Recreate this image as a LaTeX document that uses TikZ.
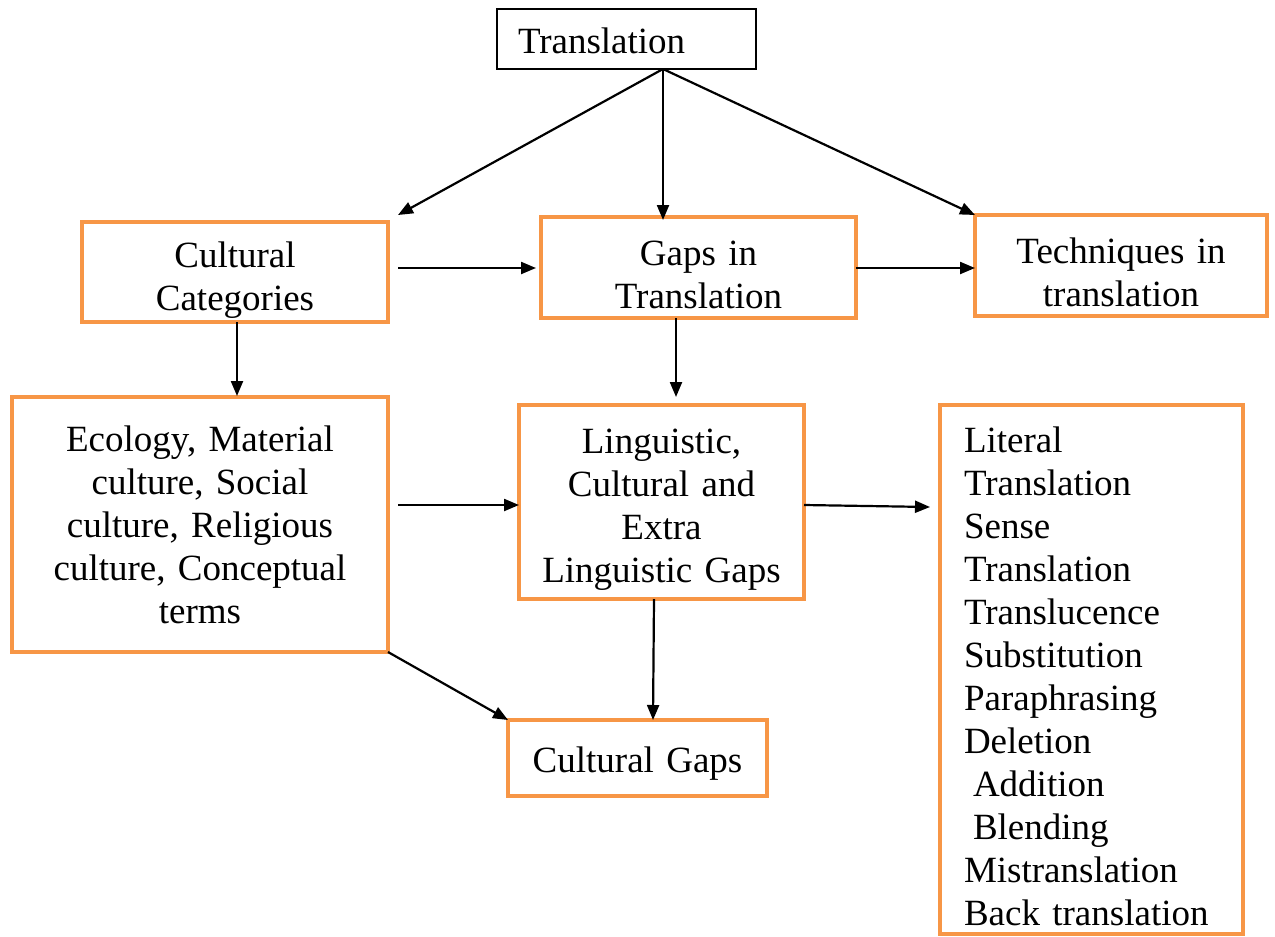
\documentclass[tikz,border=0pt]{standalone}
\usepackage{fontspec}
\setmainfont{Liberation Serif}
\usetikzlibrary{arrows.meta,calc}
\definecolor{boxorange}{HTML}{F79646}
\newcommand{\topstrut}[1]{\rule{0pt}{#1pt}}
\begin{document}
\begin{tikzpicture}[x=1pt,y=-1pt,
  every node/.style={font=\fontsize{37}{43}\selectfont, outer sep=0pt},
  obox/.style={draw=boxorange, line width=4pt, fill=white, inner sep=0pt, align=center},
  bbox/.style={draw=black, line width=1.5pt, fill=white, inner sep=0pt},
  arr/.style={line width=2.2pt, -{Triangle[length=15pt,width=12pt]}}]
\useasboundingbox (0,0) rectangle (1275,937);
\node[bbox, minimum width=259, minimum height=60, text width=217, inner xsep=21, align=left] (tr) at (626.5,39) {\topstrut{30}Translation};
\node[obox, minimum width=306, minimum height=100, text width=286] (cc) at (235,272) {\topstrut{42}Cultural\\Categories};
\node[obox, minimum width=315, minimum height=101, text width=295] (gap) at (698.5,267.5) {\topstrut{40}Gaps in\\Translation};
\node[obox, minimum width=292, minimum height=101, text width=272] (tech) at (1121,265.5) {\topstrut{40}Techniques in\\translation};
\node[obox, minimum width=376, minimum height=255, text width=356] (eco) at (200,524.5) {Ecology, Material\\culture, Social\\culture, Religious\\culture, Conceptual\\terms};
\node[obox, minimum width=285, minimum height=194, text width=265] (ling) at (661.5,502) {\topstrut{40}Linguistic,\\Cultural and\\Extra\\Linguistic Gaps};
\node[obox, minimum width=303, minimum height=529, text width=255, inner xsep=24, align=left] (list) at (1091.5,669.5) {\topstrut{40}Literal\\Translation\\Sense\\Translation\\Translucence\\Substitution\\Paraphrasing\\Deletion\\\hspace*{9pt}Addition\\\hspace*{9pt}Blending\\Mistranslation\\Back translation};
\node[obox, minimum width=259, minimum height=76, text width=239] (cg) at (637.5,758) {\topstrut{36}Cultural Gaps};
\coordinate (hub) at ([xshift=36.5]tr.south);
\draw[arr] (hub) -- ([shift={(10,-7)}]cc.north east);
\draw[arr] (hub) -- ([shift={(-35.5,3)}]gap.north);
\draw[arr] (hub) -- (tech.north west);
\draw[arr] ([shift={(10,-4)}]cc.east) -- ([shift={(-5,0.5)}]gap.west);
\draw[arr] ([shift={(0,0.5)}]gap.east) -- ([shift={(0,0.5)}]gap.east -| tech.west);
\draw[arr] ([shift={(2,0)}]cc.south) -- ([shift={(37,-1)}]eco.north);
\draw[arr] ([shift={(-22.5,0)}]gap.south) -- ([shift={(14.5,-8)}]ling.north);
\draw[arr] ([shift={(10,-19.5)}]eco.east) -- ([shift={(0,3)}]ling.west);
\draw[arr] ([shift={(0,3)}]ling.east) -- ([shift={(-10,-162.5)}]list.west);
\draw[arr] ([shift={(-7.5,0)}]ling.south) -- ([shift={(15.5,0)}]cg.north);
\draw[arr] (eco.south east) -- (cg.north west);
\end{tikzpicture}
\end{document}
